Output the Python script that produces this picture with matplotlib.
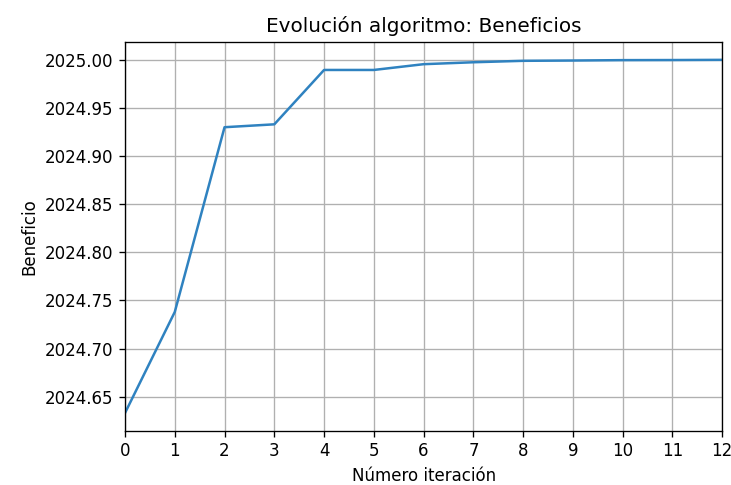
import numpy as np
from matplotlib import pyplot as plt

# iteration number vs best profit found
iteraciones = list(range(13))
beneficios = [2024.633, 2024.738, 2024.930, 2024.933, 2024.9895, 2024.9895,
              2024.9955, 2024.9975, 2024.999, 2024.9993, 2024.9997, 2024.9998, 2025.0]

fig = plt.figure(figsize=(731/120, 485/120), dpi=120)
ax = fig.add_axes([0.171, 0.112, 0.817, 0.801])

ax.plot(iteraciones, beneficios, color='#2f82c0', linewidth=1.5)
ax.set_xlim(0, 12)
ax.set_xticks(iteraciones)
ax.grid(True)
ax.set_title("Evolución algoritmo: Beneficios", fontsize=12)
ax.set_xlabel("Número iteración")
ax.set_ylabel("Beneficio")
ax.yaxis.set_major_formatter(plt.FormatStrFormatter('%.2f'))

fig.savefig("out.png", dpi=120)
